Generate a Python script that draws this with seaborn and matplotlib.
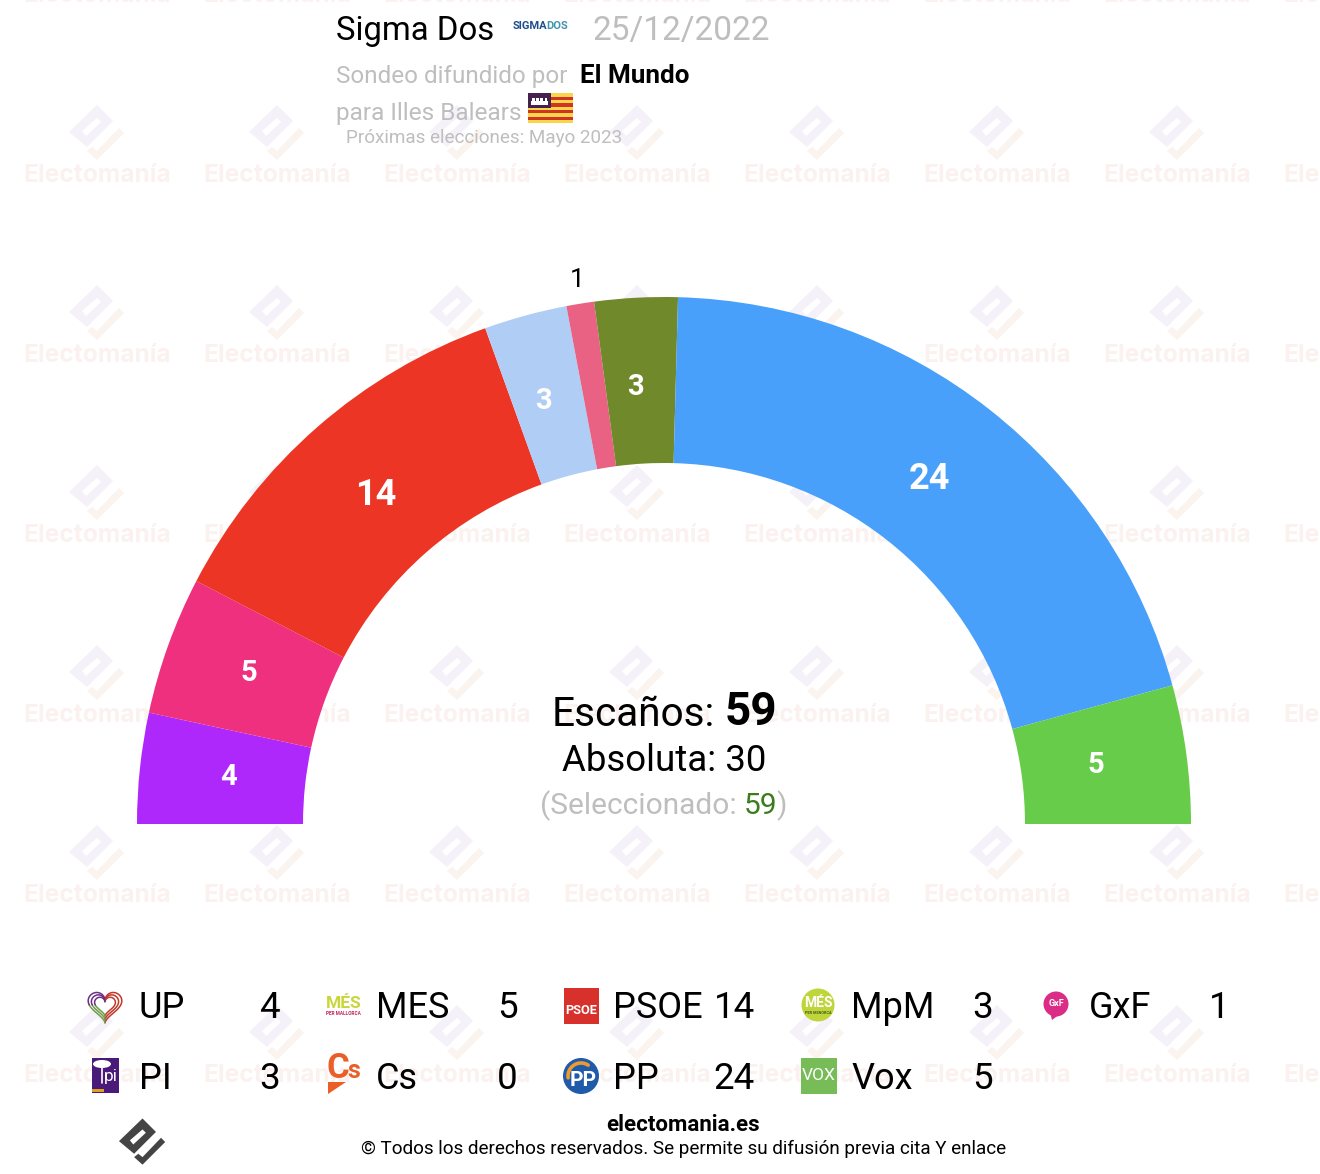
# Semicircle seat chart for the Sigma Dos poll (Illes Balears)
import numpy as np
import matplotlib
matplotlib.use("Agg")
import matplotlib.pyplot as plt
from matplotlib.patches import Polygon, Rectangle, Circle, Ellipse
import seaborn as sns

# Data
parties = ["UP", "MES", "PSOE", "MpM", "GxF", "PI", "Cs", "PP", "Vox"]
seats = [4, 5, 14, 3, 1, 3, 0, 24, 5]
arc_order = ["UP", "MES", "PSOE", "PI", "GxF", "MpM", "Cs", "PP", "Vox"]
party_colors = ["#AF28FB", "#EE307F", "#EC3524", "#B0CEF5", "#E96284",
                "#70892B", "#EB6109", "#48A0FA", "#66CC4A"]
total_seats = 59
majority = 30
selected = 59
pollster = "Sigma Dos"
poll_date = "25/12/2022"
media = "El Mundo"
region = "Illes Balears"
next_vote = "Mayo 2023"

sns.set_theme(style="white")
plt.rcParams["font.family"] = ["Roboto", "DejaVu Sans"]

fig = plt.figure(figsize=(13.2, 11.74), dpi=100)
ax = fig.add_axes([0, 0, 1, 1])

GREY = "#BEBEBE"
CX, CY = 664, 824
R_OUT, R_IN = 527, 361
# small hand nudges for the numbers inside the arc
label_nudge = {"MES": (-3, -2), "PI": (-5, 0), "MpM": (-5, 0), "PP": (-5, 0), "Vox": (-2, -1), "PSOE": (0, 1)}


def logo(x, y, s, c1, c2, z=1):
    # electomania diamond logo, origin at its middle
    box = [(0, -28), (16, -12), (-10, 14), (-28, -1)]
    slot = [(-15, -2), (0, -15), (4, -11), (-11, 3)]
    tick = [(22, -5), (27, 0), (0, 27), (-10, 18), (-5, 14), (0, 18)]
    for pts, c in ((box, c1), (slot, "white"), (tick, c2)):
        ax.add_patch(Polygon([(x + a * s, y + b * s) for a, b in pts],
                             fc=c, ec="none", zorder=z))


# Watermark tiles
for col in range(8):
    for row in range(7):
        wx, wy = 97 + 180 * col, 173 + 180 * (row - 1)
        ax.text(wx, wy + 2, "Electomanía", fontfamily="Inter", fontweight="bold",
                fontsize=17.7, color="#FBF2F0", ha="center", va="center",
                zorder=1, clip_on=True)
        logo(wx, wy - 40, 1, "#F5F1F9", "#FBF3EE")

# Half donut, y axis runs downward so the arc goes over the top
values = [seats[parties.index(p)] for p in arc_order]
wedges, _ = ax.pie(values + [sum(values)], startangle=180, counterclock=True,
                   colors=sns.color_palette(party_colors) + ["none"],
                   center=(CX, CY), radius=R_OUT, frame=True,
                   wedgeprops=dict(width=R_OUT - R_IN, linewidth=0, zorder=2))
ax.set_xlim(0, 1320)
ax.set_ylim(1174, 0)
ax.axis("off")

for w, name, val in zip(wedges, arc_order, values):
    if val == 0:
        continue
    mid = np.deg2rad((w.theta1 + w.theta2) / 2)
    if val == 1:
        # too thin, goes outside in black
        ax.text(CX + 554 * np.cos(mid) + 1, CY + 554 * np.sin(mid) + 3, str(val),
                fontsize=19, color="black", ha="center", va="center", zorder=3)
    else:
        dx, dy = label_nudge.get(name, (0, 0))
        ax.text(CX + 438 * np.cos(mid) + dx, CY + 438 * np.sin(mid) + dy, str(val),
                fontsize=26 if val > 9 else 21, fontweight="bold", color="white",
                ha="center", va="center", zorder=3)

# Header
ax.text(336, 31, pollster, fontsize=23.7, color="black", va="center", zorder=3)
ax.text(513, 26, "SIGMA", fontsize=8, fontweight="bold", color="#1F4E8C", va="center", zorder=3)
ax.text(546, 26, "DOS", fontsize=8, fontweight="bold", color="#3F93AE", va="center", zorder=3)
ax.text(593, 31, poll_date, fontsize=24, color=GREY, va="center", zorder=3)
ax.text(336, 76, "Sondeo difundido por", fontsize=17.5, color=GREY, va="center", zorder=3)
ax.text(580, 76, media, fontsize=18.7, fontweight="bold", color="black", va="center", zorder=3)
ax.text(336, 113.5, "para " + region, fontsize=17.6, color=GREY, va="center", zorder=3)
ax.text(346, 138, "Próximas elecciones: " + next_vote, fontsize=13.55, color=GREY, va="center", zorder=3)

# Balearic flag
ax.add_patch(Rectangle((528, 93), 45, 30, fc="#F9D649", ec="none", zorder=3))
for k in range(4):
    ax.add_patch(Rectangle((528, 96.5 + 6.8 * k), 45, 3.4, fc="#CE3524", ec="none", zorder=3))
ax.add_patch(Rectangle((528, 93), 23, 15, fc="#45214F", ec="none", zorder=3))
ax.add_patch(Rectangle((531, 101), 17, 3.5, fc="white", ec="none", zorder=3))
for k in range(4):
    ax.add_patch(Rectangle((532 + 4.2 * k, 98), 2.6, 3, fc="white", ec="none", zorder=3))

# Centre totals
ax.text(552, 714, "Escaños:", fontsize=29.2, color="black", va="center", zorder=3)
ax.text(725, 712, str(total_seats), fontsize=33, fontweight="bold", color="black", va="center", zorder=3)
ax.text(664, 761, f"Absoluta: {majority}", fontsize=26.4, color="black", ha="center", va="center", zorder=3)
ax.text(540, 805.5, "(Seleccionado:", fontsize=21.5, color=GREY, va="center", zorder=3)
ax.text(744, 805.5, str(selected), fontsize=21.5, color="#3A7D1E", va="center", zorder=3)
ax.text(776, 805.5, ")", fontsize=21.5, color=GREY, va="center", zorder=3)

# Legend
for i, (name, val) in enumerate(zip(parties, seats)):
    col = i % 5
    ly = 1008 if i < 5 else 1079
    nx = 138.5 + 237.5 * col
    ax.text(nx, ly, name, fontsize=26, color="black", va="center", zorder=3)
    ax.text(280 + 237.5 * col, ly, str(val), fontsize=26.5, color="black", ha="right", va="center", zorder=3)

# UP heart, nested outlines in three colours
t = np.linspace(0, 2 * np.pi, 160)
hx = 16 * np.sin(t) ** 3
hy = -(13 * np.cos(t) - 5 * np.cos(2 * t) - 2 * np.cos(3 * t) - np.cos(4 * t))
for sc in (1.05, 0.85, 0.65):
    ax.plot(105 + sc * hx[:80], 1005 + sc * hy[:80], color="#C0392B", lw=1.1, zorder=3)
    ax.plot(105 + sc * hx[79:115], 1005 + sc * hy[79:115], color="#6FA04A", lw=1.1, zorder=3)
    ax.plot(105 + sc * hx[114:], 1005 + sc * hy[114:], color="#6D2F86", lw=1.1, zorder=3)

# MES
ax.text(343.5, 1003, "MÉS", fontsize=12.5, fontweight="bold", color="#C8D63A", ha="center", va="center", zorder=3)
ax.text(343.5, 1013.5, "PER MALLORCA", fontsize=3.4, fontweight="bold", color="#C0245C", ha="center", va="center", zorder=3)
# PSOE
ax.add_patch(Rectangle((564, 988), 35, 36, fc="#D8302B", ec="none", zorder=3))
ax.text(581.5, 1010, "PSOE", fontsize=9.2, fontweight="bold", color="white", ha="center", va="center", zorder=3)
# MpM
ax.add_patch(Circle((818, 1005), 16.5, fc="#BFD53A", ec="none", zorder=3))
ax.text(818, 1003, "MÉS", fontsize=10, fontweight="bold", color="white", ha="center", va="center", zorder=3)
ax.text(818, 1013, "PER MENORCA", fontsize=2.8, fontweight="bold", color="#3E5A20", ha="center", va="center", zorder=3)
# GxF
ax.add_patch(Circle((1056, 1004), 12.5, fc="#DB2C86", ec="none", zorder=3))
ax.add_patch(Polygon([(1050, 1012), (1060, 1014), (1052, 1020)], fc="#DB2C86", ec="none", zorder=3))
ax.text(1056, 1004, "GxF", fontsize=6.5, fontweight="bold", color="white", ha="center", va="center", zorder=3)
# PI
ax.add_patch(Rectangle((92, 1058), 27, 35, fc="#4A1A7A", ec="none", zorder=3))
ax.add_patch(Ellipse((102, 1064), 18, 8, fc="white", ec="none", zorder=3))
ax.plot([102, 102], [1066, 1083], color="white", lw=1.2, zorder=3)
ax.text(111, 1076, "pi", fontsize=12.5, color="white", ha="center", va="center", zorder=3)
ax.add_patch(Rectangle((92, 1089), 12, 3, fc="#E0A020", ec="none", zorder=3))
# Cs
ax.text(338, 1068, "C", fontsize=25, fontweight="bold", color="#EB5E28", ha="center", va="center", zorder=3)
ax.text(354, 1071, "s", fontsize=18, fontweight="bold", color="#EB5E28", ha="center", va="center", zorder=3)
ax.add_patch(Polygon([(328, 1082), (346, 1082), (328, 1094)], fc="#EB5E28", ec="none", zorder=3))
# PP
ax.add_patch(Circle((581, 1076), 18, fc="#1F5BA8", ec="none", zorder=3))
ax.text(583, 1080, "PP", fontsize=15, fontweight="bold", color="white", ha="center", va="center", zorder=3)
arc = np.linspace(3.0, 5.3, 24)
ax.plot(581 + 13 * np.cos(arc), 1076 + 13 * np.sin(arc), color="#EE9A30", lw=2.6, zorder=3)
# Vox
ax.add_patch(Rectangle((801, 1058), 36, 36, fc="#78BC58", ec="none", zorder=3))
ax.text(819, 1076, "VOX", fontsize=12.5, color="white", ha="center", va="center", zorder=3)

# Footer
logo(142.5, 1142, 0.84, "#444444", "#444444", z=3)
ax.text(683, 1125, "electomania.es", fontsize=16, fontweight="bold", color="black", ha="center", va="center", zorder=3)
ax.text(683.5, 1149, "© Todos los derechos reservados. Se permite su difusión previa cita Y enlace",
        fontsize=13.6, color="black", ha="center", va="center", zorder=3)

fig.savefig("out.png", dpi=100)
